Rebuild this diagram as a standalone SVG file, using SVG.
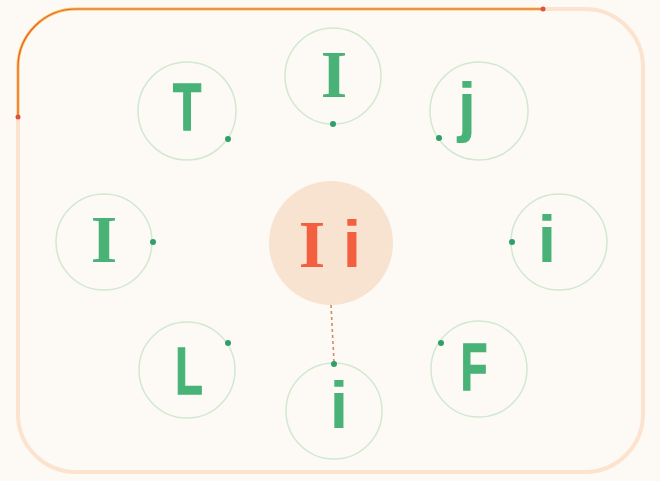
<svg xmlns="http://www.w3.org/2000/svg" width="660" height="481" viewBox="0 0 660 481">
  <defs>
    <style>
      .ring { fill: #fdfaf5; stroke: #d2e8cf; stroke-width: 1.5; }
      .dot { fill: #2fa06a; }
      .sans { font-family: "Liberation Sans", Arial, sans-serif; font-weight: bold; font-size: 66px; fill: #48b277; text-anchor: middle; }
      .serif { font-family: "Liberation Serif", "Times New Roman", serif; font-weight: bold; font-size: 68px; fill: #48b277; text-anchor: middle; }
      .thick { stroke: #48b277; stroke-width: 1.6; }
      .hub { fill: #f8e2d0; }
      .hubtxt { fill: #f2603f; }
      .conn { fill: none; stroke: #d48a62; stroke-width: 1.6; stroke-dasharray: 3 3; }
    </style>
  </defs>
  <rect x="0" y="0" width="660" height="481" fill="#fdfaf5"/>
  <rect id="frame" x="18" y="9" width="625" height="463" rx="58" ry="58" fill="#fdfaf5" stroke="#fbe3cf" stroke-width="4"/>
  <g id="accent">
    <path d="M18,117 L18,67 A58,58 0 0 1 76,9 L543,9" fill="none" stroke="#fdfaf5" stroke-width="5"/>
    <path d="M18,117 L18,67 A58,58 0 0 1 76,9 L543,9" fill="none" stroke="#f7c44a" stroke-width="3"/>
    <path d="M18,117 L18,67 A58,58 0 0 1 76,9 L543,9" fill="none" stroke="#ea5a48" stroke-width="1.2"/>
    <circle cx="18" cy="117" r="2.5" fill="#e0523f"/>
    <circle cx="543" cy="9" r="2.5" fill="#e0523f"/>
  </g>
  <g id="connectors">
    <path class="conn" d="M331,305 L334,362"/>
  </g>
  <g id="hub">
    <circle class="hub" cx="331" cy="243" r="62"/>
    <text class="serif hubtxt" x="312" y="267">I</text>
    <text class="sans hubtxt" x="352" y="267">i</text>
  </g>
  <g id="node-T">
    <circle class="ring" cx="187" cy="111" r="49"/>
    <text class="sans thick" transform="translate(187,130) scale(0.7,1)">T</text>
    <circle class="dot" cx="228" cy="139" r="3"/>
  </g>
  <g id="node-I-top">
    <circle class="ring" cx="333" cy="76" r="48"/>
    <text class="serif" x="334" y="97">I</text>
    <circle class="dot" cx="333" cy="124" r="3"/>
  </g>
  <g id="node-j">
    <circle class="ring" cx="479" cy="111" r="49"/>
    <text class="sans" x="467" y="129">j</text>
    <circle class="dot" cx="439" cy="138" r="3"/>
  </g>
  <g id="node-I-left">
    <circle class="ring" cx="104" cy="242" r="48"/>
    <text class="serif" x="104" y="262">I</text>
    <circle class="dot" cx="153" cy="242" r="3"/>
  </g>
  <g id="node-i-right">
    <circle class="ring" cx="559" cy="242" r="48"/>
    <text class="sans" x="547" y="262">i</text>
    <circle class="dot" cx="512" cy="242" r="3"/>
  </g>
  <g id="node-L">
    <circle class="ring" cx="187" cy="370" r="48"/>
    <text class="sans thick" transform="translate(189,394) scale(0.68,1)">L</text>
    <circle class="dot" cx="228" cy="343" r="3"/>
  </g>
  <g id="node-F">
    <circle class="ring" cx="479" cy="369" r="48"/>
    <text class="sans thick" transform="translate(474,390) scale(0.66,1)">F</text>
    <circle class="dot" cx="441" cy="343" r="3"/>
  </g>
  <g id="node-i-bottom">
    <circle class="ring" cx="334" cy="411" r="48"/>
    <text class="sans" x="339" y="428">i</text>
    <circle class="dot" cx="334" cy="364" r="3"/>
  </g>
</svg>
